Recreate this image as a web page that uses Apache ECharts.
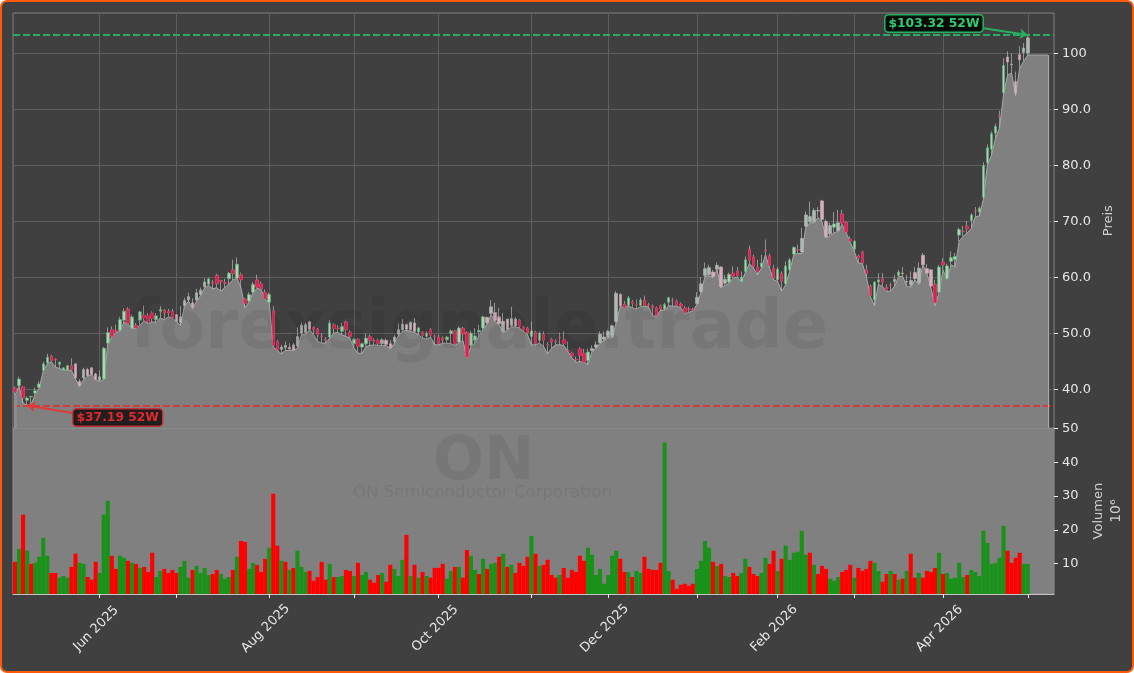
<!DOCTYPE html>
<html>
<head>
<meta charset="utf-8">
<title>ON</title>
<script src="https://cdn.jsdelivr.net/npm/echarts@6/dist/echarts.min.js"></script>
<style>
  html, body { margin: 0; padding: 0; background: #fff; }
  #frame { position: absolute; left: 0; top: 0; width: 1134px; height: 673px; box-sizing: border-box;
           background: #404040; border: 2.5px solid #ff5a0a; border-radius: 7px; }
  #chart { position: absolute; left: 0; top: 0; width: 1134px; height: 673px; }
</style>
</head>
<body>
<div id="frame"></div>
<div id="chart"></div>
<script>
  // one trading day per slot
  var opens = [
    40.3,40.7,40.5,38.1,38.7,39.4,40.4,43.4,44.8,46,
    45.4,44.5,43.5,43.5,44.3,44.6,41.5,42.1,43.6,43.9,
    42.8,41.7,41.9,48.3,50.7,50.6,50.6,52.4,54.4,51,
    51.5,52.4,53.3,53.2,53.7,52.5,54,54.2,54,54,
    53.4,52,55,56,55.5,56,57,58.4,58.8,59.2,
    60.4,59.5,59.1,59.8,61.4,59.9,60.5,56.2,55.8,57.4,
    59.6,58.9,57.4,55.6,54.1,48.6,47.2,47.5,47.6,48,
    47.8,50.1,50.2,52.1,51.1,50.8,49.6,48.9,49.4,51.6,
    51,50.4,52.1,50.3,48.2,49,47.6,48.2,49.5,48.8,
    48.8,48.2,48.8,48.2,48.6,49.9,50.7,51.6,50.7,51.9,
    50.3,50.3,49.5,50.8,49.6,49.4,49.2,48.9,50,50.5,
    48.5,51,50.2,47.9,48.8,50.3,51,52.9,53.6,53.8,
    53,50.4,52.6,51.4,52.6,52.4,51.2,51,49.5,50.3,
    48.8,49.9,48.1,49,48.7,49.4,48.9,47,46.5,45.4,
    47.3,46.5,45.2,47,47.6,48.4,49,49.3,49.4,52.2,
    57,55.3,55.1,55.7,55.2,55,56,55.2,54.9,54.6,
    55,54.4,55.6,56,55.8,55.3,54.6,54.4,54.3,55.4,
    57.5,60.4,60.5,61,61.5,61.9,59,59.2,60.8,61.2,
    59.3,61.1,65.1,63.7,61.9,61.9,64.9,63.9,61.7,59.6,
    60.8,58.9,61.4,64.2,65,64.6,69.2,70,70,71.9,
    73.7,70,67.8,69,68.4,71.4,69.9,66.9,65.1,63.9,
    64.6,61.4,58.5,56,59.2,59.8,58.3,58.7,59.3,60.4,
    60.8,59.3,58.7,60.9,59.1,64,61.6,61.4,58.8,57.4,
    62.8,59.8,62.9,63.2,67.6,68.3,69.2,70.2,72,71.7,
    74.3,80.5,82.9,85.8,88.9,93,99.4,98.1,95,99.8,
    100.2,100.1
  ];
  var highs = [
    40.6,42.3,40.6,38.8,38.9,40.4,41.5,45,46.4,46.2,
    45.6,45,44,44.4,45.6,44.7,41.9,43.9,43.9,44,
    43,43.4,47.6,51.1,51.3,51.6,53,54.5,54.7,53.4,
    51.9,54.1,55,53.7,54,53.7,54.9,54.4,54.4,54.4,
    53.5,54.9,56.4,57.3,56.3,58,58.2,59.9,60,59.6,
    60.7,59.6,59.8,61,63.2,63.6,60.9,56.4,57.4,59.2,
    60.5,59.3,57.9,57.3,54.9,48.9,48,48.6,48.3,48.3,
    51.1,52,52,52.3,51.3,51,50.1,49.4,52.4,51.9,
    51.5,51.9,52.3,50.6,49.2,49.2,48.4,50,49.8,49.2,
    49.1,49.2,49.1,48.8,49.8,51.8,52.6,51.8,52.2,52.8,
    51.2,50.4,50.4,51,49.8,49.8,49.5,49.6,50.8,50.7,
    51.3,51.2,50.4,50.5,51,51.6,53.2,53,56,55.5,
    54.6,53.7,52.6,54.8,53,52.6,51.4,51.2,52.2,50.5,
    50.4,50.4,48.5,49.2,49,50.2,50.4,48.6,46.8,45.9,
    47.6,47.3,47.3,47.9,48.6,50.4,50.4,50.7,51.6,57.6,
    57.2,55.8,56.7,56,56.1,56.4,56.8,55.5,55.2,54.8,
    55.2,55.5,56.6,56.4,56.1,55.6,54.9,54.8,54.6,57.4,
    60.1,62.7,62.3,61.4,62.7,62,60.5,60.9,62,61.9,
    61.1,63.8,65.7,64.1,63.2,64.1,66.8,64.3,62.3,61.9,
    61.1,62.9,63.5,65.6,65.9,68.9,71.8,73.6,72.4,72.6,
    73.9,70.4,69.8,71.7,72.1,72.1,70,67.4,66.7,64.1,
    64.8,62.3,58.8,59.4,60.8,60.8,58.8,59.1,60.5,61.4,
    61.9,60.5,61.1,61.9,62.7,64.4,62.4,61.5,59.6,62.3,
    63.5,62.5,64.7,64.4,68.9,69.2,70.1,71.5,72.6,72.7,
    80.6,83.8,86.1,87.5,89.8,99.2,100.4,100,96.8,101.3,
    101.9,103.32
  ];
  var lows = [
    39,40.6,37.6,37.19,37.4,39.1,40.3,43.3,44.6,45,
    44,43.8,43.5,43.5,43.4,41.9,40.6,41.8,42.4,42.7,
    41.7,41.5,41.8,48.2,49.4,50.2,50.4,52.1,51.7,50.9,
    50.9,51.6,52.3,51.8,52.1,52,52.8,52.5,53,52.8,
    52.1,51.5,54.9,55.8,54.4,55.8,56.8,58.2,58.6,58,
    58.2,57.6,58.2,58.9,59.6,59.9,58.2,54.6,55.7,57.3,
    58.1,57.9,56.1,55.5,47.6,47,46.4,47,47,47,
    47.4,49.8,49.8,50.7,49.8,48.6,48.3,48.3,49.2,50.1,
    50.2,49.8,49.5,49.2,47.4,46.5,46.5,47.7,47.9,48,
    47.9,47.9,47.9,47.3,48.3,49.6,50.4,50.6,50.4,50.2,
    49.8,49.2,49,49.4,48,48,48.3,48.3,48.2,47.9,
    48.3,48.8,45.7,47.7,48.3,49.6,50.7,51.7,53.4,52.2,
    51.6,50.2,50.6,51.2,51.2,51,50.4,49.8,48,48,
    48.3,47.7,46.4,47.4,48,48,47.9,46.8,45.7,44.9,
    45,44.9,44.5,46.8,47.4,48.3,48.8,49.2,49.2,51.9,
    54.9,54.6,55,54.6,54.4,54.8,54.9,54.8,53.2,53.1,
    54.2,54.2,55,54.9,54.9,54.6,53.6,53.8,54.1,55.2,
    57.3,60.2,60.3,60,61.4,58.2,58.6,59,59.9,60.1,
    59.2,60.9,62.5,61.7,60.5,61.7,64.1,61.7,59.6,59.3,
    57.6,58.7,61.1,64.1,64.3,64.3,69,69.8,69.8,70.7,
    70,67.1,67.5,68,68.3,69.5,68,66.3,64.7,62.6,
    62.5,60.2,56.6,55,58.8,58.4,57.5,57.6,58.5,60.2,
    60.2,58.5,58.3,59.6,58.8,62.3,60.8,58.2,55,57.3,
    61.3,59.7,62.3,61.9,66.5,67.4,68,68.8,70.9,71,
    74,80.2,81.8,84.9,86.7,92.7,96.2,96.5,92.5,97.4,
    98.6,99.75
  ];
  var closes = [
    39.6,41.9,38.5,38.5,38.8,39.8,41,44.6,45.8,45.2,
    45.3,44.9,43.9,44.3,43.5,42.1,40.7,43.6,42.5,42.7,
    41.8,42.3,47.4,50.2,49.5,50.4,52.5,54,51.8,53,
    51,53.9,52.8,52.1,52.7,53.2,54.3,53.7,53.7,52.9,
    52.2,53,55.9,56.6,54.8,57.3,57.8,59.2,59.8,59,
    58.9,59.3,59,60.8,60.7,62.4,59.6,55.4,57,58.8,
    58.3,58,56.2,57,47.9,47.1,47.6,47.9,47.3,47.1,
    49.5,51.5,51.6,50.8,50.7,49.8,49.5,48.8,51.9,50.9,
    50.9,51.3,50.7,49.5,49,47.7,48.2,49.2,48.8,48.7,
    48.2,48.9,48.1,47.5,49.4,50.7,51.7,50.8,52,50.4,
    51,49.7,50.1,49.7,49.5,48.2,48.8,49.4,50.5,48.2,
    51,49.9,45.8,50.1,49.6,50.6,53,52,54.8,52.4,
    51.8,52.2,50.7,52.7,51.4,51.3,50.7,50.1,50.5,48.2,
    50.1,48.8,48,48.5,48.6,49.3,48.2,46.9,46,45.3,
    46.1,44.9,46.7,47.3,48,49.9,49.4,50.4,51.4,57.2,
    55,54.6,56.4,55.4,55.1,56,55,55.1,54.6,53.2,
    54.4,55.2,56.4,55.9,55.1,54.9,53.8,54.3,54.2,56.5,
    58.9,61.6,61.8,60.2,62.2,58.4,59.7,60.6,60.2,60.4,
    60.1,63.2,63.1,62,61.1,62.6,64.8,62.1,59.9,61.5,
    59.3,62.1,63.2,65.4,64.9,67,71.2,70.9,72,72,
    70.4,67.3,69.3,69.6,69.8,69.8,68.1,66.5,66.5,63.5,
    62.6,60.7,56.8,59.2,59.6,59.2,57.7,58.6,59.7,61,
    60.7,59.2,59.5,59.8,61.7,62.3,60.8,58.5,55.5,61.9,
    62.3,62.1,63.6,63.8,68.6,68.2,68.7,71.2,71.9,72.4,
    80,83.2,85.7,87,88.8,97.9,98.5,98,93,98.9,
    101,102.8
  ];
  // the filled outline keeps running flat past the last candle
  var areaTail = [99.75, 99.75, 99.75, 99.75, 99.75];
  // candles that look washed out in the picture
  var paleCandles = [
    15,16,17,18,19,20,21, 40,41,42,43,44,45,46,47, 66,67,68,69,70,71,72,73,
    91,92,93,94,95,96,97,98,99, 117,118,119,120,121,122,123,124,
    143,144,145,146,147,148,149,150, 169,170,171,172,173,174,175,176,
    195,196,197,198,199,200,201,202,204, 218,220,221,222,223,224,225,226,227,
    246,247,248,249,250,251
  ];

  var volumes = [
    10.5,14.3,24.5,13.8,9.9,10.2,12,17.6,12.3,7.2,
    7.2,5.8,6.3,5.8,9,12.9,10.2,9.9,6,5.2,
    10.5,7.2,24.5,28.6,12.3,8.4,12.3,11.7,10.8,10.2,
    9.9,8.7,9,7.5,13.2,6,7.8,8.4,7.2,8.1,
    7.2,9,10.8,5.8,8.1,9.3,7.2,8.7,6.6,6.9,
    8.1,6.9,5.5,6,8.1,12,16.7,16.4,8.4,10.2,
    9.6,7.5,11.4,14.7,30.7,15.3,10.8,10.5,8.1,8.7,
    13.8,9,7.5,7.8,4.9,6,10.5,5.2,9.9,6,
    6,6.3,8.1,7.8,6.3,10.2,6.6,7.5,5.2,4.3,
    6.6,7.2,4.6,9.6,8.4,6.3,11.1,18.5,6.3,9.6,
    5.8,7.5,6.3,5.8,8.7,8.7,9.9,5.5,7.8,9,
    9,5.8,14,12.3,8.1,6.9,11.4,8.4,9.9,10.2,
    12,12.9,9,9.6,7.2,10.2,9.3,12,18.2,12.9,
    9.3,9.6,11.1,6.6,5.8,6.6,8.7,5.8,8.1,7.5,
    12.3,10.8,14.7,12.6,6.6,8.4,4,6.6,12.3,13.8,
    11.4,7.5,7.5,6,7.8,7.2,12,8.4,8.1,8.1,
    10.2,45.9,7.8,5.2,2.5,3.7,4,3.4,4,8.4,
    10.8,16.7,14.7,10.5,9.3,9.9,6.3,6,7.2,6.3,
    7.2,11.4,9,6.9,6.3,7.2,11.7,9.9,13.8,7.8,
    11.4,15.3,11.1,13.2,13.5,19.7,12.6,13.2,9.6,6.9,
    9.3,8.4,5.5,4.9,6,7.5,8.1,9.6,5.8,8.7,
    7.8,8.4,10.8,10.2,7.8,4.6,6.9,7.8,6.9,5.2,
    5.5,7.8,12.9,5.8,7.2,5.8,7.8,7.5,8.7,13.2,
    6.9,7.2,5.5,5.8,10.2,6,6.6,8.1,7.5,6.3,
    19.7,16.1,9.9,10.2,11.7,21.2,13.8,10.2,11.7,13.2,
    9.9,9.9
  ];
  // g = green bar, r = red bar
  var volumeSides = (
    'rgrgrggggr' + 'rgggrrggrr' + 'rgggrrggrg' + 'rgrrrggrrr' + 'rgggrggggr' +
    'rgggrgrrgg' + 'rrrgrrgrgr' + 'gggrrrrrgr' + 'ggrrgrggrr' + 'rgrrgggrgr' +
    'grgrrrrggr' + 'grrggrgrgg' + 'rgrgrrrrgr' + 'grrrrgrrrr' + 'rrgggggggg' +
    'rrgrggrrrr' + 'rggrrrrrrg' + 'gggrgrggrr' + 'ggrrrggrrg' + 'rggggggrgr' +
    'rrgggrrrgr' + 'rrrggrrgrg' + 'rgrrgrrrrg' + 'rgggggrggg' + 'ggggggrrrr' +
    'gg'
  ).split('');

  var priceTicks = [40, 50, 60, 70, 80, 90, 100];
  var volumeTicks = [10, 20, 30, 40, 50];
  var monthTicks = [21, 40, 63, 84, 105, 128, 147, 169, 189, 208, 230, 251];
  var labelTicks = [21, 63, 105, 147, 189, 230];
  var labelNames = ['Jun 2025', 'Aug 2025', 'Oct 2025', 'Dec 2025', 'Feb 2026', 'Apr 2026'];
  var high52 = 103.32;
  var low52 = 37.19;
  var lastSlot = closes.length + areaTail.length - 1;

  var categories = [];
  for (var i = 0; i <= lastSlot + 1; i++) categories.push(String(i));

  var pricePaneMin = 33.1;

  // colour set by hand per candle, same value for both sign slots
  function candleStyle(i) {
    var up = closes[i] >= opens[i];
    var pale = paleCandles.indexOf(i) >= 0;
    var fill = pale ? (up ? '#aeb8b1' : '#d6adb8') : (up ? '#b8ccbc' : '#e0204f');
    var edge = pale ? (up ? '#aebbb2' : '#cdb0b8') : (up ? '#4cc070' : '#e8507c');
    return { color: fill, color0: fill, borderColor: edge, borderColor0: edge };
  }

  // wicks get their own pale layers, above and below the body, so the body colour stays free
  var wickStyle = { color: '#b8b8b8', color0: '#b8b8b8', borderColor: '#b8b8b8', borderColor0: '#b8b8b8', borderWidth: 0.7 };
  var upperWicks = opens.map(function (o, i) {
    var top = Math.max(o, closes[i]);
    return [top, top, top, highs[i]];
  });
  var lowerWicks = opens.map(function (o, i) {
    var bottom = Math.min(o, closes[i]);
    return [bottom, bottom, lows[i], bottom];
  });
  var bodyData = opens.map(function (o, i) {
    return { value: [o, closes[i], Math.min(o, closes[i]), Math.max(o, closes[i])], itemStyle: candleStyle(i) };
  });

  var chart = echarts.init(document.getElementById('chart'), null, { renderer: 'canvas' });

  var labelFont = { fontFamily: 'DejaVu Sans', fontSize: 13, color: '#e6e6e6' };

  function monthTick(idx) { return monthTicks.indexOf(idx) >= 0; }
  function labelTick(idx) { return labelTicks.indexOf(idx) >= 0; }

  var option = {
    backgroundColor: 'transparent',
    animation: false,
    textStyle: { fontFamily: 'DejaVu Sans' },
    grid: [
      { left: 13, top: 13, width: 1041, height: 415.3, show: true, borderColor: '#808080', borderWidth: 1,
        backgroundColor: 'transparent' },
      { left: 13, top: 428.3, width: 1041, height: 165.7, show: true, borderColor: '#909090', borderWidth: 1,
        backgroundColor: '#808080' }
    ],
    xAxis: [
      { type: 'category', gridIndex: 0, data: categories, boundaryGap: true,
        axisLine: { show: false }, axisTick: { show: false }, axisLabel: { show: false },
        splitLine: { show: true, alignWithLabel: true, interval: monthTick, lineStyle: { color: '#5e5e5e', width: 1 } } },
      { type: 'category', gridIndex: 1, data: categories, boundaryGap: true,
        axisLine: { show: true, lineStyle: { color: '#c4c4c4', width: 1 } },
        axisTick: { show: true, alignWithLabel: true, interval: monthTick, length: 4, lineStyle: { color: '#f0f0f0' } },
        axisLabel: Object.assign({}, labelFont, { rotate: 45, align: 'center', verticalAlign: 'middle',
          margin: 31, padding: [0, 10, 0, 0], interval: labelTick,
          formatter: function (v) { return labelNames[labelTicks.indexOf(Number(v))] || ''; } }),
        splitLine: { show: false } }
    ],
    yAxis: [
      { type: 'value', gridIndex: 0, position: 'right', min: pricePaneMin, max: 107.25, scale: true,
        name: 'Preis', nameLocation: 'middle', nameGap: 46, nameRotate: 90,
        nameTextStyle: { fontFamily: 'DejaVu Sans', fontSize: 13, color: '#cfcfcf' },
        axisLine: { show: false },
        axisTick: { show: true, length: 4, customValues: priceTicks, lineStyle: { color: '#f0f0f0' } },
        axisLabel: Object.assign({ margin: 8, customValues: priceTicks, padding: [2, 0, 0, 0],
          formatter: function (v) { return v === 100 ? '100' : v.toFixed(1); } }, labelFont),
        splitLine: { show: true, lineStyle: { color: '#5e5e5e', width: 1 } } },
      { type: 'value', gridIndex: 1, position: 'right', min: 0.96, max: 50.1, scale: true,
        name: 'Volumen\n{e|10⁶}', nameLocation: 'middle', nameGap: 33, nameRotate: 90,
        nameTextStyle: { fontFamily: 'DejaVu Sans', fontSize: 13, color: '#cfcfcf', lineHeight: 18,
          rich: { e: { fontFamily: 'DejaVu Sans', fontSize: 14, color: '#cfcfcf', lineHeight: 18 } } },
        axisLine: { show: false },
        axisTick: { show: true, length: 4, customValues: volumeTicks, lineStyle: { color: '#f0f0f0' } },
        axisLabel: Object.assign({ margin: 8, customValues: volumeTicks, padding: [2, 0, 0, 0] }, labelFont),
        splitLine: { show: false } }
    ],
    series: [
      { name: 'Tief', type: 'line', xAxisIndex: 0, yAxisIndex: 0, z: 2, data: lows.concat(areaTail),
        showSymbol: false, symbol: 'none', silent: true,
        lineStyle: { color: '#a8a8a8', width: 1 }, areaStyle: { color: '#808080', opacity: 1, origin: 'start' },
        markLine: { silent: true, symbol: 'none', z: 6, label: { show: false }, animation: false,
          data: [
            { yAxis: high52, lineStyle: { color: '#2bab63', type: [7, 3], width: 1.8 } },
            { yAxis: low52, lineStyle: { color: '#d33c3c', type: [7, 3], width: 1.8 } },
            [ { coord: ['0', pricePaneMin], lineStyle: { color: '#8c8c8c', width: 3, type: 'solid' } }, { coord: ['0', lows[0]] } ],
            [ { coord: [String(lastSlot), pricePaneMin], lineStyle: { color: '#a8a8a8', width: 1.2, type: 'solid' } }, { coord: [String(lastSlot), areaTail[0]] } ]
          ] } },
      { name: 'Docht oben', type: 'candlestick', xAxisIndex: 0, yAxisIndex: 0, z: 3, barWidth: 1, data: upperWicks, silent: true,
        itemStyle: wickStyle,
        markLine: { silent: true, symbol: ['none', 'arrow'], symbolSize: 8, z: 7, label: { show: false }, animation: false,
          data: [
            [ { x: 982, y: 28, lineStyle: { color: '#27ae60', width: 2, type: 'solid' } }, { coord: ['251', high52] } ],
            [ { x: 73, y: 413, lineStyle: { color: '#e23838', width: 2, type: 'solid' } }, { coord: ['3', low52] } ]
          ] } },
      { name: 'Docht unten', type: 'candlestick', xAxisIndex: 0, yAxisIndex: 0, z: 3, barWidth: 1, data: lowerWicks, silent: true,
        itemStyle: wickStyle },
      { name: 'Kurs', type: 'candlestick', xAxisIndex: 0, yAxisIndex: 0, z: 4, barWidth: 3, data: bodyData, silent: true,
        itemStyle: { borderWidth: 0.6 } },
      { name: 'Volumen', type: 'bar', xAxisIndex: 1, yAxisIndex: 1, z: 5, barWidth: 4.1, data: volumes, silent: true,
        itemStyle: { color: function (p) { return volumeSides[p.dataIndex] === 'g' ? '#1a921a' : '#ff0000'; } } }
    ],
    graphic: [
      { type: 'text', silent: true, z: 20, left: 130, top: 297,
        style: { text: 'forexsignale.trade', font: 'bold 67px "DejaVu Sans"', fill: 'rgba(0,0,0,0.07)' } },
      { type: 'text', silent: true, z: 20, left: 433, top: 433,
        style: { text: 'ON', font: 'bold 60px "DejaVu Sans"', fill: 'rgba(0,0,0,0.07)' } },
      { type: 'text', silent: true, z: 20, left: 353, top: 484,
        style: { text: 'ON Semiconductor Corporation', font: '16.6px "DejaVu Sans"', fill: 'rgba(0,0,0,0.07)' } },
      { type: 'text', silent: true, z: 30, left: 884, top: 14,
        style: { text: '$103.32 52W', font: 'bold 12.3px "DejaVu Sans"', fill: '#2ecc71', backgroundColor: 'rgba(0,0,0,0.85)',
          borderColor: '#27ae60', borderWidth: 1.5, borderRadius: 3, padding: [2, 3, 2, 3] } },
      { type: 'text', silent: true, z: 30, left: 72, top: 408,
        style: { text: '$37.19 52W', font: 'bold 12.3px "DejaVu Sans"', fill: '#e0282e', backgroundColor: 'rgba(20,20,20,0.9)',
          borderColor: '#c0323a', borderWidth: 1.5, borderRadius: 3, padding: [2, 3, 2, 3] } }
    ]
  };

  chart.setOption(option);
</script>
</body>
</html>
